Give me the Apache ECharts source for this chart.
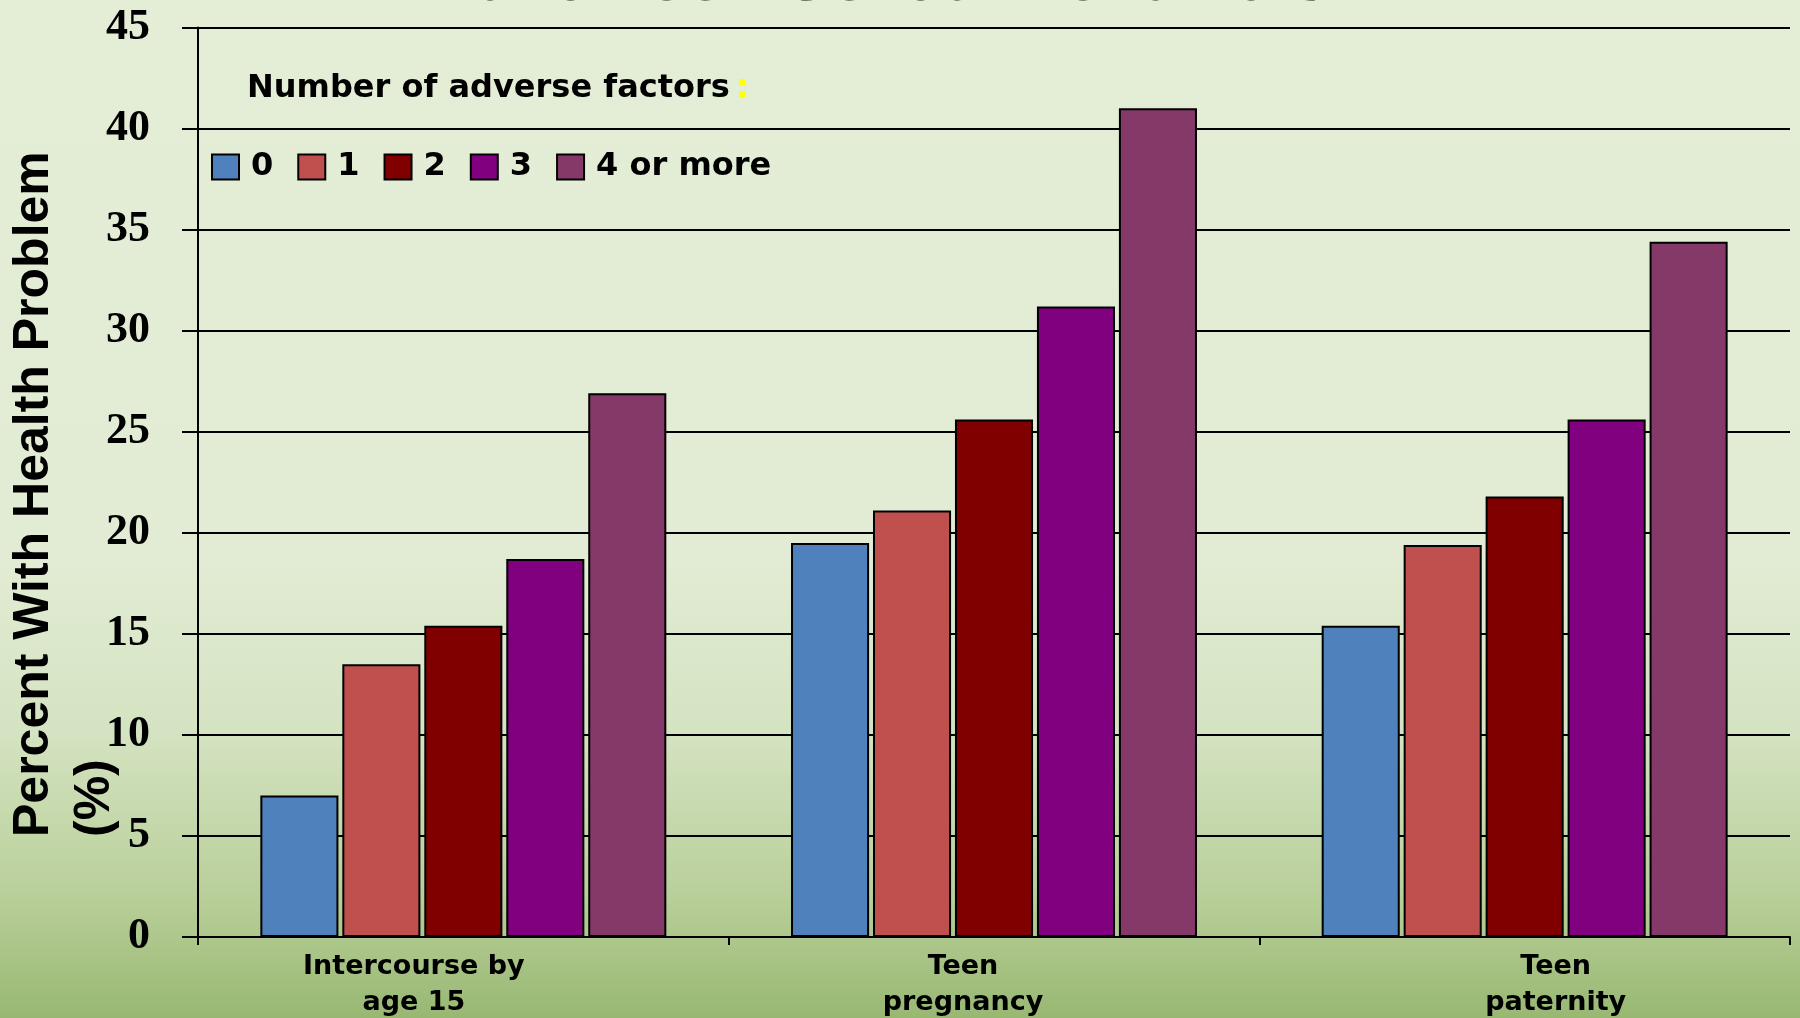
<!DOCTYPE html>
<html><head><meta charset="utf-8">
<script src="https://cdn.jsdelivr.net/npm/echarts@6/dist/echarts.min.js"></script>
<style>html,body{margin:0;padding:0;overflow:hidden;}#c{width:1800px;height:1018px;}</style>
</head><body><div id="c"></div>
<script>
// ---- data ----
const categories = ['Intercourse by\nage 15', 'Teen\npregnancy', 'Teen\npaternity'];
const seriesNames = ['0', '1', '2', '3', '4 or more'];
const factors0 = [7.0, 19.5, 15.4];
const factors1 = [13.5, 21.1, 19.4];
const factors2 = [15.4, 25.6, 21.8];
const factors3 = [18.7, 31.2, 25.6];
const factors4 = [26.9, 41.0, 34.4];
const yMin = 0, yMax = 45, yInterval = 5;
const titleText = 'and Teen Sexual Behaviors';
const legendTitle = 'Number of adverse factors';
const yName1 = 'Percent With Health Problem';
const yName2 = '(%)';

const colors = ['#4F81BD', '#C0504D', '#800000', '#800080', '#853969'];
const seriesValues = [factors0, factors1, factors2, factors3, factors4];

const chart = echarts.init(document.getElementById('c'), null, {renderer: 'canvas'});
const labelFont = {fontFamily: 'DejaVu Sans', fontWeight: 'bold', fontSize: 27, color: '#000', lineHeight: 36};

const option = {
  animation: false,
  backgroundColor: {
    type: 'linear', x: 0, y: 0, x2: 0, y2: 1,
    colorStops: [
      {offset: 0, color: '#e4eed7'},
      {offset: 0.55, color: '#e2ecd4'},
      {offset: 0.72, color: '#d4e3c1'},
      {offset: 0.88, color: '#b9cf9a'},
      {offset: 1, color: '#98b872'}
    ]
  },
  grid: {left: 198, right: 10, top: 27.5, bottom: 81, containLabel: false},
  legend: {
    data: seriesNames,
    left: 211, top: 151, padding: 0,
    orient: 'horizontal',
    icon: 'rect',
    itemWidth: 27, itemHeight: 25, itemGap: 24,
    itemStyle: {borderColor: '#000', borderWidth: 2},
    textStyle: {fontFamily: 'DejaVu Sans', fontWeight: 'bold', fontSize: 32, color: '#000', padding: [0, 0, 0, 7]}
  },
  xAxis: {
    type: 'category',
    data: categories,
    axisLine: {show: true, lineStyle: {color: '#000', width: 2}},
    axisTick: {show: true, length: 8, lineStyle: {color: '#000', width: 2}},
    axisLabel: {
      margin: 12,
      interval: 0,
      formatter: function (v, i) {
        return v.split('\n').map(function (l) { return '{g' + i + '|' + l + '}'; }).join('\n');
      },
      rich: {
        g0: Object.assign({padding: [0, 99, 0, 0]}, labelFont),
        g1: Object.assign({padding: [0, 62, 0, 0]}, labelFont),
        g2: Object.assign({padding: [0, 0, 0, 62]}, labelFont)
      }
    },
    splitLine: {show: false}
  },
  yAxis: {
    type: 'value',
    min: yMin, max: yMax, interval: yInterval,
    axisLine: {show: true, lineStyle: {color: '#000', width: 2}},
    axisTick: {show: true, length: 16, lineStyle: {color: '#000', width: 2}},
    axisLabel: {margin: 48, fontFamily: 'Liberation Serif', fontWeight: 'bold', fontSize: 44, color: '#000'},
    splitLine: {show: true, lineStyle: {color: '#000', width: 2}}
  },
  series: seriesNames.map(function (name, k) {
    return {
      name: name,
      type: 'bar',
      data: seriesValues[k],
      barCategoryGap: '23.5%',
      barGap: '5%',
      itemStyle: {color: colors[k], borderColor: '#000', borderWidth: 2}
    };
  }),
  graphic: [
    {
      type: 'text', x: 902, y: -19.5, silent: true,
      style: {text: titleText, fontFamily: 'Liberation Sans', fontSize: 70, fill: '#000', textAlign: 'center', textVerticalAlign: 'middle'}
    },
    {
      type: 'text', x: 247, y: 89, silent: true,
      style: {
        text: '{a|' + legendTitle + '}{b|:}',
        textVerticalAlign: 'middle', textAlign: 'left',
        rich: {
          a: {fontFamily: 'DejaVu Sans', fontWeight: 'bold', fontSize: 32, fill: '#000', color: '#000'},
          b: {fontFamily: 'DejaVu Sans', fontWeight: 'bold', fontSize: 32, fill: '#ffff00', color: '#ffff00', padding: [0, 0, 0, 6]}
        }
      }
    },
    {
      type: 'text', x: 34, y: 837, rotation: Math.PI / 2, silent: true,
      style: {text: yName1, fontFamily: 'Liberation Sans', fontWeight: 'bold', fontSize: 50, fill: '#000', textAlign: 'left', textVerticalAlign: 'middle'}
    },
    {
      type: 'text', x: 95, y: 837, rotation: Math.PI / 2, silent: true,
      style: {text: yName2, fontFamily: 'Liberation Sans', fontWeight: 'bold', fontSize: 50, fill: '#000', textAlign: 'left', textVerticalAlign: 'middle'}
    }
  ]
};
chart.setOption(option);
</script>
</body></html>
